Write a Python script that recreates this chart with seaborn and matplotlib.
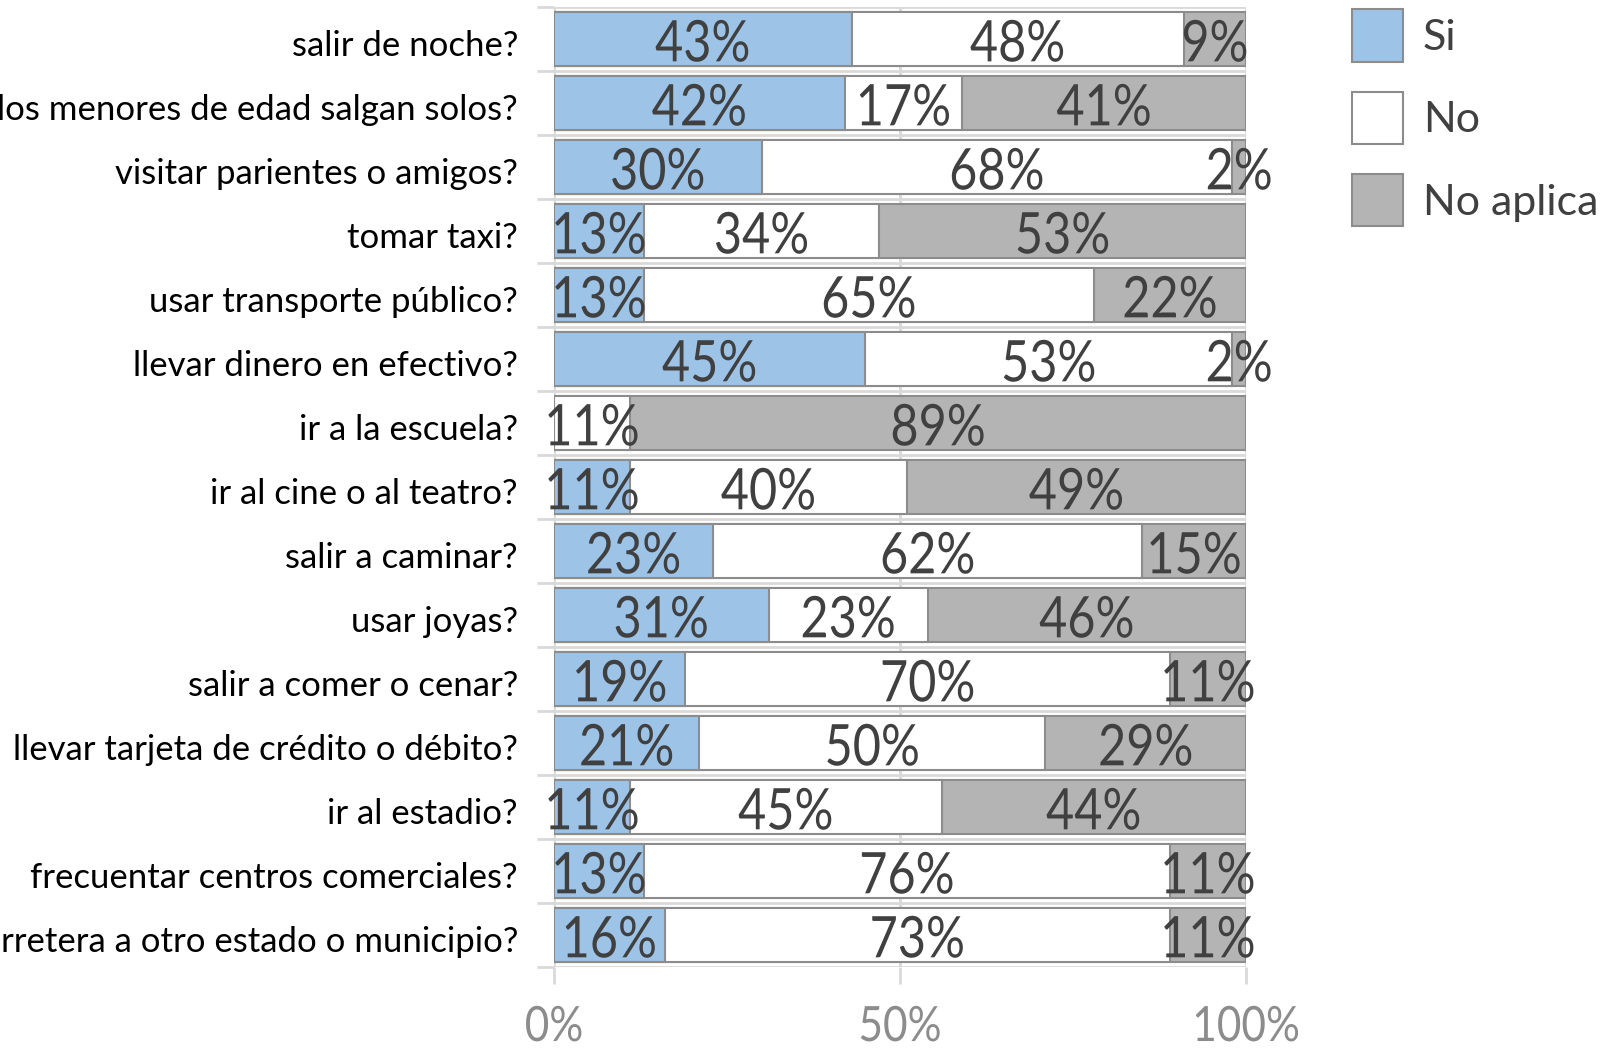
import numpy as np
import pandas as pd
import seaborn as sns
import matplotlib.pyplot as plt
from matplotlib.patches import Patch
from matplotlib.patheffects import AbstractPathEffect
from matplotlib.transforms import Affine2D, ScaledTranslation

# Datos (porcentajes por pregunta)
preguntas = [
    "salir de noche?",
    "los menores de edad salgan solos?",
    "visitar parientes o amigos?",
    "tomar taxi?",
    "usar transporte público?",
    "llevar dinero en efectivo?",
    "ir a la escuela?",
    "ir al cine o al teatro?",
    "salir a caminar?",
    "usar joyas?",
    "salir a comer o cenar?",
    "llevar tarjeta de crédito o débito?",
    "ir al estadio?",
    "frecuentar centros comerciales?",
    "rretera a otro estado o municipio?",
]
si = [43, 42, 30, 13, 13, 45, 0, 11, 23, 31, 19, 21, 11, 13, 16]
no = [48, 17, 68, 34, 65, 53, 11, 40, 62, 23, 70, 50, 45, 76, 73]
no_aplica = [9, 41, 2, 53, 22, 2, 89, 49, 15, 46, 11, 29, 44, 11, 11]

series = ["Si", "No", "No aplica"]
colores = ["#9DC3E6", "#FFFFFF", "#B4B4B4"]
borde = "#8C8C8C"
grid = "#D9D9D9"


# estira el texto en vertical (los números del original son altos y estrechos)
class Estirar(AbstractPathEffect):
    def __init__(self, sy):
        super().__init__()
        self.sy = sy

    def draw_path(self, renderer, gc, tpath, affine, rgbFace=None):
        renderer.draw_path(gc, tpath, Affine2D().scale(1, self.sy) + affine, rgbFace)


df = pd.DataFrame({"pregunta": preguntas, "Si": si, "No": no, "No aplica": no_aplica})
acum = df[series].cumsum(axis=1)
acum["pregunta"] = df["pregunta"]

plt.rcParams["font.family"] = ["Lato", "DejaVu Sans"]
fig = plt.figure(figsize=(16.18, 10.48), dpi=100)
ax = fig.add_axes([0.3424, 0.0773, 0.4277, 0.916])

# barras apiladas: se dibuja el acumulado de mayor a menor
for serie, color in reversed(list(zip(series, colores))):
    sns.barplot(data=acum, x=serie, y="pregunta",
                color=color, edgecolor=borde, linewidth=1.5, width=0.83,
                saturation=1, orient="h", ax=ax, zorder=3)

# etiquetas de porcentaje
for i in range(len(df)):
    inicio = 0
    for serie in series:
        v = df.loc[i, serie]
        if v > 0:
            ax.text(inicio + v / 2, i + 0.13, f"{v}%", ha="center", va="center",
                    fontsize=35, color="#404040", zorder=5,
                    path_effects=[Estirar(1.18)])
        inicio += v

ax.set_xlim(0, 100)
ax.set_ylim(len(df) - 0.5, -0.5)
ax.set_xticks([0, 50, 100])
ax.set_xticklabels(["0%", "50%", "100%"])
ax.set_yticks(np.arange(len(df) + 1) - 0.5, minor=True)
ax.set_xlabel("")
ax.set_ylabel("")
for s in ax.spines.values():
    s.set_visible(False)
ax.grid(axis="x", color=grid, linewidth=2, zorder=0)
ax.grid(axis="y", which="minor", color=grid, linewidth=2, zorder=0)
ax.tick_params(axis="x", length=12, width=2, color=grid, labelsize=30.5,
               labelcolor="#8C8C8C", pad=19)
ax.tick_params(axis="y", which="major", length=0, labelsize=25, pad=26,
               labelcolor="#000000")
ax.tick_params(axis="y", which="minor", length=12, width=2, color=grid)
for t in ax.get_xticklabels():
    t.set_path_effects([Estirar(1.15)])
for t in ax.get_yticklabels():
    t.set_transform(t.get_transform() + ScaledTranslation(0, -3 / 72, fig.dpi_scale_trans))

handles = [Patch(facecolor=c, edgecolor=borde, linewidth=1.5) for c in colores]
fig.legend(handles, series, loc="upper left", bbox_to_anchor=(0.8115, 1.028),
           frameon=False, fontsize=31, handlelength=1.2, handleheight=1.49,
           labelspacing=0.7, handletextpad=0.45, labelcolor="#404040")

plt.savefig("out.png", dpi=100)
